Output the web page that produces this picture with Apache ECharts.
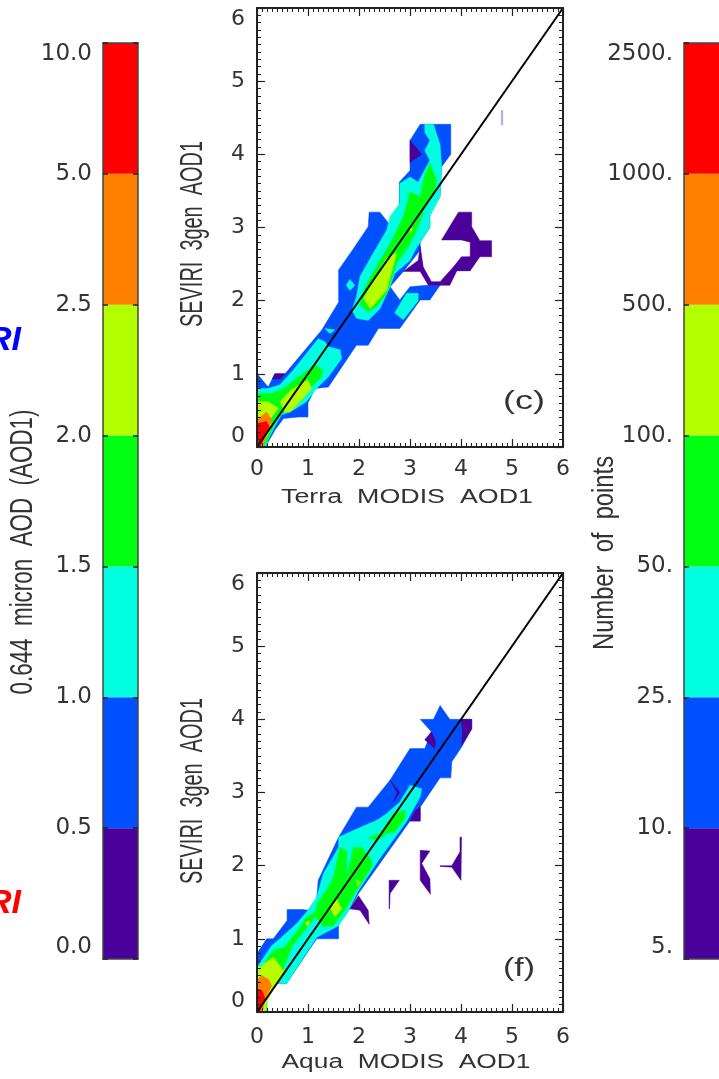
<!DOCTYPE html>
<html><head><meta charset="utf-8">
<style>html,body{margin:0;padding:0;background:#fff}#c{width:719px;height:1079px}</style>
<script src="https://cdn.jsdelivr.net/npm/echarts@6/dist/echarts.min.js"></script>
</head><body><div id="c"></div>
<script>
const levelColors=['#4b0099','#0050ff','#00ffe0','#00ff10','#b4ff00','#ff8000','#ff0000'];
const aodBarLabels=['0.0','0.5','1.0','1.5','2.0','2.5','5.0','10.0'];
const countBarLabels=['5.','10.','25.','50.','100.','500.','1000.','2500.'];
const axisTicks=[0,1,2,3,4,5,6];
const oneToOne=[[0,0],[6,6]];

// Panel (c): contour outlines in data units (x = MODIS AOD, y = SEVIRI AOD)
const cBlue=[
 [[0,0],[0,1],[.22,.82],[.35,1],[.55,1],[1.27,1.6],[1.6,1.98],[1.6,2.42],[1.89,2.71],[2.18,3.01],[2.2,3.21],[2.41,3.21],[2.59,3.05],[2.79,3.28],[2.79,3.62],[3,3.78],[3,4.19],[3.2,4.41],[3.8,4.41],[3.8,4],[3.62,3.83],[3.59,3.42],[3.39,3.2],[3.39,3],[3.2,2.8],[3.2,2.69],[2.87,2.4],[2.61,2.19],[2.8,2.01],[3,2.19],[3.33,2.21],[3.59,2.21],[3.39,2.01],[3.2,2.01],[2.8,1.62],[2.38,1.62],[2.18,1.39],[1.95,1.39],[1.4,.82],[1.14,.8],[1,.6],[1,.41],[.81,.41],[.52,.39],[.35,.23],[.19,.03],[.19,0]],
 [[3.92,2.41],[4.01,2.58],[4.21,2.6],[4.18,2.41]]
];
const cPurple=[
 [[3.62,2.83],[3.95,3.21],[4.21,3.21],[4.21,3.01],[4.37,2.82],[4.6,2.82],[4.6,2.6],[4.37,2.6],[4.18,2.41],[3.92,2.41],[3.78,2.21],[3.36,2.21],[3.2,2.4],[2.87,2.4],[3.16,2.55],[3.2,2.74],[3.26,2.46],[3.42,2.26],[3.59,2.26],[3.85,2.46],[4.01,2.6],[4.18,2.6],[4.18,2.8],[4.01,2.83]],
 [[3,4.19],[3.23,4],[3,3.89]],
 [[.35,1],[.55,1],[.45,.93],[.3,.93]]
];
const cFaint=[[[4.79,4.6],[4.82,4.6],[4.82,4.4],[4.79,4.4]]];
const cCyan=[
 [[3.29,4.41],[3.46,4.41],[3.59,4.13],[3.62,3.83],[3.59,3.42],[3.39,3.15],[3.39,3],[3.2,2.8],[3.1,2.69],[3,2.55],[2.7,2.37],[2.61,2.19],[2.41,1.89],[2.18,1.73],[1.95,1.76],[1.86,1.87],[1.95,2.05],[2.02,2.33],[2.28,2.65],[2.54,2.96],[2.61,3.15],[2.8,3.33],[2.8,3.6],[3,3.69],[3.16,3.62],[3.39,3.92],[3.29,4.05],[3.39,4.19],[3.29,4.3]],
 [[2.7,1.83],[2.93,2.1],[3.16,2.1],[3.16,2],[2.87,1.74]],
 [[1.82,2.29],[1.92,2.21],[1.82,2.14],[1.75,2.21]],
 [[1.33,1.62],[1.53,1.6],[1.43,1.55]],
 [[0,0],[0,.8],[.22,.8],[.45,.85],[.71,1.05],[1.2,1.48],[1.33,1.44],[1.4,1.37],[1.63,1.33],[1.66,1.21],[1.4,.96],[1.17,.8],[.97,.62],[.65,.48],[.48,.44],[.35,.28],[.22,.1],[.19,.03],[.15,0]]
];
const cGreen=[
 [[0,0],[0,.73],[.29,.73],[.52,.8],[.78,.94],[1.14,1.12],[1.3,1.05],[1.24,.94],[1,.78],[.88,.64],[.65,.5],[.48,.46],[.32,.28],[.19,.07],[.12,0]],
 [[3.39,3.88],[3.52,3.65],[3.49,3.51],[3.29,3.26],[3.13,2.96],[2.97,2.74],[2.74,2.51],[2.54,2.1],[2.35,1.92],[2.18,1.85],[2.02,1.94],[2.12,2.19],[2.38,2.51],[2.61,2.78],[2.87,3.15],[3,3.49],[3.2,3.42],[3.29,3.72]]
];
const cYellow=[
 [[0,0],[0,.62],[.22,.62],[.42,.53],[.25,.37],[.29,.28],[.16,.1],[.1,0]],
 [[.45,.62],[.67,.78],[1,.92],[1.07,.8],[.88,.65],[.65,.48],[.55,.48]],
 [[2.74,2.65],[2.54,2.14],[2.22,1.89],[2.09,2.03],[2.31,2.3],[2.54,2.58]],
 [[3,3],[3.06,2.97],[3,2.93]]
];
const cOrange=[[[0,0],[0,.37],[.19,.48],[.29,.37],[.22,.23],[.12,.03],[.08,0]]];
const cRed=[[[0,0],[0,.32],[.19,.35],[.24,.28],[.09,.05],[.06,0]]];

// Panel (f)
const fBlue=[
 [[0,0],[0,.8],[.19,1],[.32,1],[.59,1.25],[.59,1.4],[.9,1.4],[1,1.39],[1.17,1.55],[1.2,1.8],[1.6,2.39],[1.95,2.8],[2.18,2.8],[2.61,3.17],[3,3.6],[3.29,3.6],[3.42,3.83],[3.2,4],[3.46,4],[3.59,4.19],[3.78,4],[4.21,4],[4.21,3.87],[4.01,3.62],[3.82,3.42],[3.8,3.2],[3.59,3.2],[3.2,2.8],[3.2,2.61],[3,2.61],[2.41,2.03],[1.99,1.62],[1.82,1.41],[1.6,1.21],[1.6,1],[1.17,1],[.58,.39],[.35,.39],[.19,.16],[.19,0]]
];
const fPurple=[
 [[3.42,3.83],[3.29,3.72],[3.49,3.6],[3.5,3.7]],
 [[4,4],[4.21,4],[4.21,3.87],[4.01,3.64],[4.03,3.85]],
 [[2.61,3.17],[2.8,3],[2.67,2.87],[2.75,3]],
 [[3,2.61],[3.2,2.61],[3.2,2.8],[3.1,2.75]],
 [[1.82,1.41],[1.99,1.59],[2.18,1.39],[2.2,1.2],[2.02,1.39]],
 [[2.59,1.8],[2.79,1.8],[2.61,1.62],[2.6,1.41],[2.59,1.41]],
 [[3.2,2.21],[3.39,2.2],[3.23,2.03],[3.39,1.82],[3.4,1.61],[3.2,1.8],[3.2,2.03]],
 [[3.59,2],[3.82,2],[3.98,2.19],[3.98,2.39],[4.01,2.39],[4,1.8],[3.82,1.98],[3.59,1.99]]
];
const fCyan=[
 [[0,0],[0,.61],[.29,.91],[.45,1],[.78,1.21],[1,1.39],[1.17,1.57],[1.3,1.89],[1.6,2.25],[1.6,2.39],[1.95,2.5],[2.35,2.62],[2.54,2.71],[2.8,2.87],[3,3.1],[3.23,3.05],[3.2,2.94],[2.93,2.6],[2.41,2.1],[1.99,1.66],[1.76,1.34],[1.6,1.18],[1.17,1.02],[.58,.39],[.35,.39],[.19,.16],[.19,0]]
];
const fGreen=[
 [[0,0],[0,.52],[.32,.84],[.55,.89],[.81,1.12],[.97,1.3],[1.14,1.36],[1.17,1.47],[1.4,1.71],[1.5,1.85],[1.63,2.25],[1.76,2.2],[1.76,1.84],[1.89,2.25],[2.05,2.25],[2.25,2.07],[2.25,1.98],[1.95,1.66],[1.76,1.43],[1.5,1.18],[1.3,1.17],[1.14,1.3],[1.04,1.21],[.68,.89],[.48,.52],[.29,.36],[.19,.16],[.19,0]],
 [[2.2,2.39],[2.41,2.44],[2.67,2.71],[2.9,2.76],[2.9,2.64],[2.7,2.46],[2.54,2.44],[2.38,2.35],[2.22,2.37]]
];
const fYellow=[
 [[0,0],[0,.59],[.32,.75],[.55,.54],[.32,.32],[.19,.14],[.17,0]],
 [[1.56,1.55],[1.66,1.41],[1.53,1.3],[1.43,1.43]],
 [[.95,1.22],[1.03,1.25],[1,1.17]],
 [[1.95,1.8],[2.03,1.78],[1.98,1.72]]
];
const fOrange=[[[0,0],[0,.43],[.09,.5],[.22,.45],[.29,.36],[.16,.18],[.12,.04],[.1,0]]];
const fRed=[[[0,0],[0,.32],[.1,.29],[.16,.18],[.06,.02],[.05,0]]];

const textColor='#333', lineColor='#222', fontFamily='"DejaVu Sans"', nameFont='"Liberation Sans"';
const paintOrder=[1,0,2,3,4,5,6];
const cLevels=[cPurple,cBlue,cCyan,cGreen,cYellow,cOrange,cRed];
const fLevels=[fPurple,fBlue,fCyan,fGreen,fYellow,fOrange,fRed];

function polySeries(polys,color,ax){
  return {type:'custom',xAxisIndex:ax,yAxisIndex:ax,silent:true,clip:true,
    data:polys.map((p,i)=>[i]),
    encode:{x:[],y:[]},
    renderItem:function(params,api){
      const pts=polys[api.value(0)].map(p=>api.coord(p));
      return {type:'polygon',shape:{points:pts},style:{fill:color,stroke:color,lineWidth:.5}};
    }};
}
function plotAxes(gridIndex,xMargin){
  const base={min:0,max:6,interval:1,gridIndex,z:6,minorTick:{show:true,splitNumber:10,length:4,lineStyle:{color:lineColor,width:1}},
    axisTick:{show:true,inside:true,length:8,lineStyle:{color:lineColor,width:1.2}},
    axisLine:{show:true,onZero:false,lineStyle:{color:lineColor,width:2}},splitLine:{show:false},minorSplitLine:{show:false}};
  const lab={color:textColor,fontFamily,fontSize:22};
  return {
   x:[{...base,type:'value',position:'bottom',axisLabel:{...lab,margin:xMargin,formatter:v=>String(axisTicks[v])}},
      {...base,type:'value',position:'top',axisLabel:{show:false}}],
   y:[{...base,type:'value',position:'left',axisLabel:{...lab,margin:12,verticalAlignMinLabel:'bottom',verticalAlignMaxLabel:'top',formatter:v=>String(axisTicks[v])}},
      {...base,type:'value',position:'right',axisLabel:{show:false}}]
  };
}
function barAxes(gridIndex,labels,rightEdge){
  const tick={show:true,inside:true,length:5,lineStyle:{color:lineColor,width:1.5}};
  const line={show:true,onZero:false,lineStyle:{color:'#444',width:1.5}};
  const y=[{type:'value',gridIndex,z:6,min:0,max:7,interval:1,position:'left',axisLine:line,axisTick:tick,splitLine:{show:false},
    axisLabel:{color:textColor,fontFamily,fontSize:23,margin:11,verticalAlignMinLabel:'bottom',verticalAlignMaxLabel:'top',formatter:v=>labels[v]}}];
  if(rightEdge) y.push({type:'value',gridIndex,z:6,min:0,max:7,interval:1,position:'right',axisLine:line,axisTick:tick,splitLine:{show:false},axisLabel:{show:false}});
  const x=[{type:'category',gridIndex,z:6,data:['bar'],position:'bottom',axisLine:line,axisTick:{show:false},axisLabel:{show:false}},
           {type:'category',gridIndex,z:6,data:['bar'],position:'top',axisLine:line,axisTick:{show:false},axisLabel:{show:false}}];
  return {x,y};
}
const c=plotAxes(0,11), f=plotAxes(1,14);
const b1=barAxes(2,aodBarLabels,true), b2=barAxes(3,countBarLabels,false);

const xAxis=[c.x[0],f.x[0],c.x[1],f.x[1],b1.x[0],b1.x[1],b2.x[0],b2.x[1]];
const yAxis=[c.y[0],f.y[0],c.y[1],f.y[1],b1.y[0],b1.y[1],b2.y[0]];
const series=[];
paintOrder.forEach(l=>series.push(polySeries(cLevels[l],levelColors[l],0)));
series.push(polySeries(cFaint,'#a9a8cf',0));
paintOrder.forEach(l=>series.push(polySeries(fLevels[l],levelColors[l],1)));
[0,1].forEach(a=>series.push({type:'line',xAxisIndex:a,yAxisIndex:a,data:oneToOne,symbol:'none',silent:true,z:5,lineStyle:{color:'#000',width:2}}));
levelColors.forEach((col,i)=>{
  series.push({type:'bar',xAxisIndex:4,yAxisIndex:4,stack:'a',data:[1],barWidth:'100%',silent:true,itemStyle:{color:col}});
  series.push({type:'bar',xAxisIndex:6,yAxisIndex:6,stack:'b',data:[1],barWidth:'100%',silent:true,itemStyle:{color:col}});
});
// Labels stretched to the reference's wide lettering
const meas=document.createElement('canvas').getContext('2d');
function label(text,x,y,size,alongPx,acrossScale,rotated,family){
  const font=size+'px '+(family||nameFont);
  meas.font=font;
  const along=alongPx/meas.measureText(text).width;
  return {type:'text',x,y,z:20,rotation:rotated?Math.PI/2:0,scaleX:along,scaleY:acrossScale,
    style:{text,font,fill:textColor,align:'center',verticalAlign:'middle'}};
}
const option={animation:false,backgroundColor:'#fff',
 grid:[{left:257,top:8,width:306,height:439},{left:257,top:573,width:306,height:439},
       {left:103,top:43,width:35,height:916},{left:684,top:43,width:45,height:916}],
 xAxis,yAxis,series,
 graphic:[
  {type:'text',x:21,y:341,style:{text:'RI',fill:'#0000ff',font:'italic bold 34px "Liberation Sans"',align:'right',verticalAlign:'middle'}},
  {type:'text',x:21,y:904,style:{text:'RI',fill:'#ff0000',font:'italic bold 34px "Liberation Sans"',align:'right',verticalAlign:'middle'}},
  label('(c)',524,402,24,42,1.1,false),
  label('(f)',519,969,24,32,1.1,false),
  label('Terra  MODIS  AOD1',407,497,20,252,1.05,false),
  label('Aqua  MODIS  AOD1',406,1062,20,249,1.05,false),
  label('SEVIRI  3gen  AOD1',194,234,21,186,1.45,true),
  label('SEVIRI  3gen  AOD1',194,791,21,186,1.45,true),
  label('0.644  micron  AOD  (AOD1)',24,552,21,285,1.45,true),
  label('Number  of  points',605,553,21,194,1.4,true)
 ]};
const chart=echarts.init(document.getElementById('c'),null,{renderer:'canvas'});
chart.setOption(option);
</script></body></html>
